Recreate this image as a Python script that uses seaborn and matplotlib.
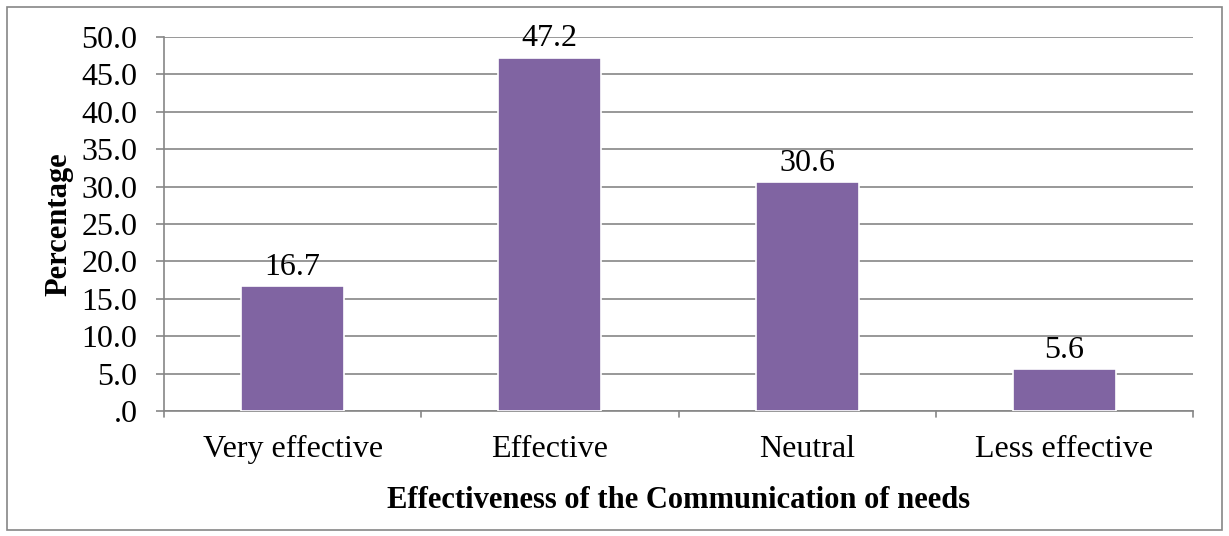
import matplotlib
matplotlib.use("Agg")
import matplotlib.pyplot as plt
import seaborn as sns
import pandas as pd
from matplotlib.patches import Rectangle

categories = ["Very effective", "Effective", "Neutral", "Less effective"]
percentages = [16.7, 47.2, 30.6, 5.6]
y_ticks = [0, 5, 10, 15, 20, 25, 30, 35, 40, 45, 50]

sns.set_theme(style="white")
plt.rcParams["font.family"] = ["Liberation Serif", "DejaVu Serif"]
plt.rcParams["text.color"] = "black"
plt.rcParams["xtick.color"] = "black"
plt.rcParams["ytick.color"] = "black"
plt.rcParams["axes.labelcolor"] = "black"

FS = 23
LABEL_FS = 22

df = pd.DataFrame({"category": categories, "pct": percentages})

fig = plt.figure(figsize=(12.29, 5.36), dpi=100)
ax = fig.add_axes([164 / 1229, 1 - 411 / 536, (1193 - 164) / 1229, (411 - 37) / 536])

sns.barplot(data=df, x="category", y="pct", color="#8064A2", saturation=1,
            width=0.4, edgecolor="white", linewidth=1.2, ax=ax, zorder=3)

ax.set_ylim(0, 50)
ax.set_xlim(-0.5, len(categories) - 0.5)
ax.set_yticks(y_ticks)
ax.set_yticklabels([".0" if v == 0 else f"{v:.1f}" for v in y_ticks], fontsize=FS)
ax.tick_params(axis="x", labelsize=FS, length=0, pad=17)
ax.tick_params(axis="y", length=6, width=1.2, color="#868686", direction="out",
               pad=13, left=True, labelcolor="black")
ax.yaxis.grid(True, color="#868686", linewidth=1.2, zorder=0)
ax.set_axisbelow(True)

for side in ["top", "right"]:
    ax.spines[side].set_visible(False)
for side in ["left", "bottom"]:
    ax.spines[side].set_color("#868686")
    ax.spines[side].set_linewidth(1.2)

# category boundary ticks below the x axis
for b in range(len(categories) + 1):
    ax.plot([b - 0.5, b - 0.5], [0, -0.85], color="#868686", linewidth=1.2,
            clip_on=False, zorder=4)

for i, v in enumerate(percentages):
    ax.text(i, v + 0.6, f"{v:.1f}", ha="center", va="bottom", fontsize=FS)

ax.set_xlabel("Effectiveness of the Communication of needs", fontsize=LABEL_FS,
              fontweight="bold", labelpad=16)
ax.set_ylabel("Percentage", fontsize=LABEL_FS, fontweight="bold", labelpad=6)

fig.patches.append(Rectangle((7 / 1229, 6 / 536), 1215 / 1229, 523 / 536,
                             transform=fig.transFigure, fill=False,
                             edgecolor="#868686", linewidth=1.2))

fig.savefig("out.png", dpi=100, facecolor="white")
